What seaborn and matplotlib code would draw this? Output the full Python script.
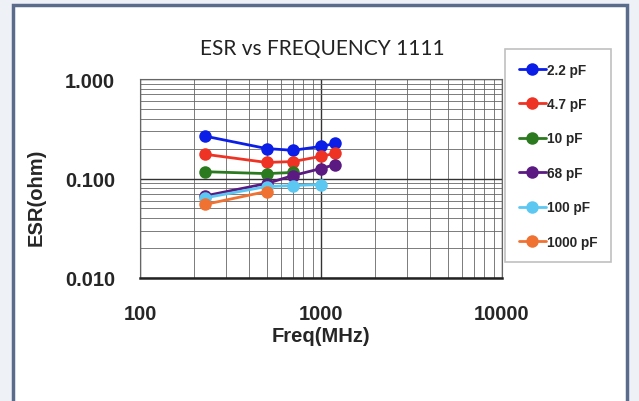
import matplotlib
matplotlib.use("Agg")
import matplotlib.pyplot as plt
from matplotlib.patches import Rectangle
import numpy as np
import pandas as pd
import seaborn as sns

# ESR readings per capacitor value
freq_5 = [230, 500, 700, 1000, 1200]
esr_2p2 = [0.266, 0.200, 0.192, 0.210, 0.225]
esr_4p7 = [0.175, 0.145, 0.148, 0.167, 0.179]
freq_10 = [230, 500, 700]
esr_10 = [0.117, 0.112, 0.115]
esr_68 = [0.067, 0.089, 0.107, 0.126, 0.138]
freq_100 = [230, 500, 700, 1000]
esr_100 = [0.064, 0.083, 0.085, 0.087]
freq_1000 = [230, 500]
esr_1000 = [0.055, 0.074]

labels = ["2.2 pF", "4.7 pF", "10 pF", "68 pF", "100 pF", "1000 pF"]
colors = ["#0a1ee8", "#ee3324", "#2b7a1f", "#5b1a82", "#5cc8f2", "#f07232"]

series = [
    (freq_5, esr_2p2),
    (freq_5, esr_4p7),
    (freq_10, esr_10),
    (freq_5, esr_68),
    (freq_100, esr_100),
    (freq_1000, esr_1000),
]

rows = []
for lab, (fx, ey) in zip(labels, series):
    for f, e in zip(fx, ey):
        rows.append({"freq": f, "esr": e, "cap": lab})
df = pd.DataFrame(rows)

sns.set_style("white")
plt.rcParams["font.family"] = ["Liberation Sans", "DejaVu Sans"]

fig = plt.figure(figsize=(6.39, 4.02), dpi=100)
fig.patch.set_facecolor("#eef1f6")

# white card with slate border
card = Rectangle((13 / 639, -0.02), (627 - 13) / 639, 1 - 6 / 402 + 0.02,
                 transform=fig.transFigure, facecolor="white",
                 edgecolor="#5b6b8c", linewidth=2.5, zorder=-10)
fig.patches.append(card)

ax = fig.add_axes([140 / 639, 1 - 279 / 402, (502 - 140) / 639, (279 - 80) / 402])
ax.set_facecolor("white")

sns.lineplot(
    data=df, x="freq", y="esr", hue="cap", hue_order=labels,
    palette=colors, marker="o", markersize=9, markeredgewidth=0,
    linewidth=2, ax=ax, legend=True, estimator=None, sort=True,
)

ax.set_xscale("log")
ax.set_yscale("log")
ax.set_xlim(100, 10000)
ax.set_ylim(0.01, 1)
ax.set_xticks([100, 1000, 10000])
ax.set_xticklabels(["100", "1000", "10000"])
ax.set_yticks([0.01, 0.1, 1])
ax.set_yticklabels(["0.010", "0.100", "1.000"])
ax.grid(True, which="major", color="#333333", linewidth=1.0)
ax.grid(True, which="minor", color="#666666", linewidth=0.6)
ax.set_axisbelow(True)
ax.tick_params(axis="both", which="both", length=0)
ax.tick_params(axis="x", pad=19)
ax.tick_params(axis="y", pad=18)
for t in ax.get_xticklabels() + ax.get_yticklabels():
    t.set_fontweight("bold")
    t.set_fontsize(14.5)
for s in ["left", "right", "top"]:
    ax.spines[s].set_color("#666666")
    ax.spines[s].set_linewidth(0.8)
ax.spines["bottom"].set_color("#222222")
ax.spines["bottom"].set_linewidth(1.8)

ax.set_xlabel("Freq(MHz)", fontsize=14.5, fontweight="bold", labelpad=2)
ax.set_ylabel("ESR(ohm)", fontsize=14.5, fontweight="bold")
ax.yaxis.set_label_coords(-0.26, 0.41)

handles, hl = ax.get_legend_handles_labels()
ax.get_legend().remove()
leg = fig.legend(
    handles, hl, loc="upper left",
    bbox_to_anchor=(505 / 639, 1 - 50 / 402), bbox_transform=fig.transFigure,
    frameon=True, fancybox=False, labelspacing=1.5, handlelength=2.0,
    handletextpad=0.1, borderpad=1.0, borderaxespad=0,
    prop={"family": "Liberation Sans", "weight": "bold", "size": 9.8},
)
leg.get_frame().set_edgecolor("#b0b0b0")
leg.get_frame().set_linewidth(1.2)

fig.text(322 / 639, 1 - 49 / 402, "ESR vs FREQUENCY 1111", ha="center",
         va="center", fontsize=15, family=["Lato", "DejaVu Sans"],
         color="#222222")

fig.savefig("out.png", dpi=100, facecolor=fig.get_facecolor())
